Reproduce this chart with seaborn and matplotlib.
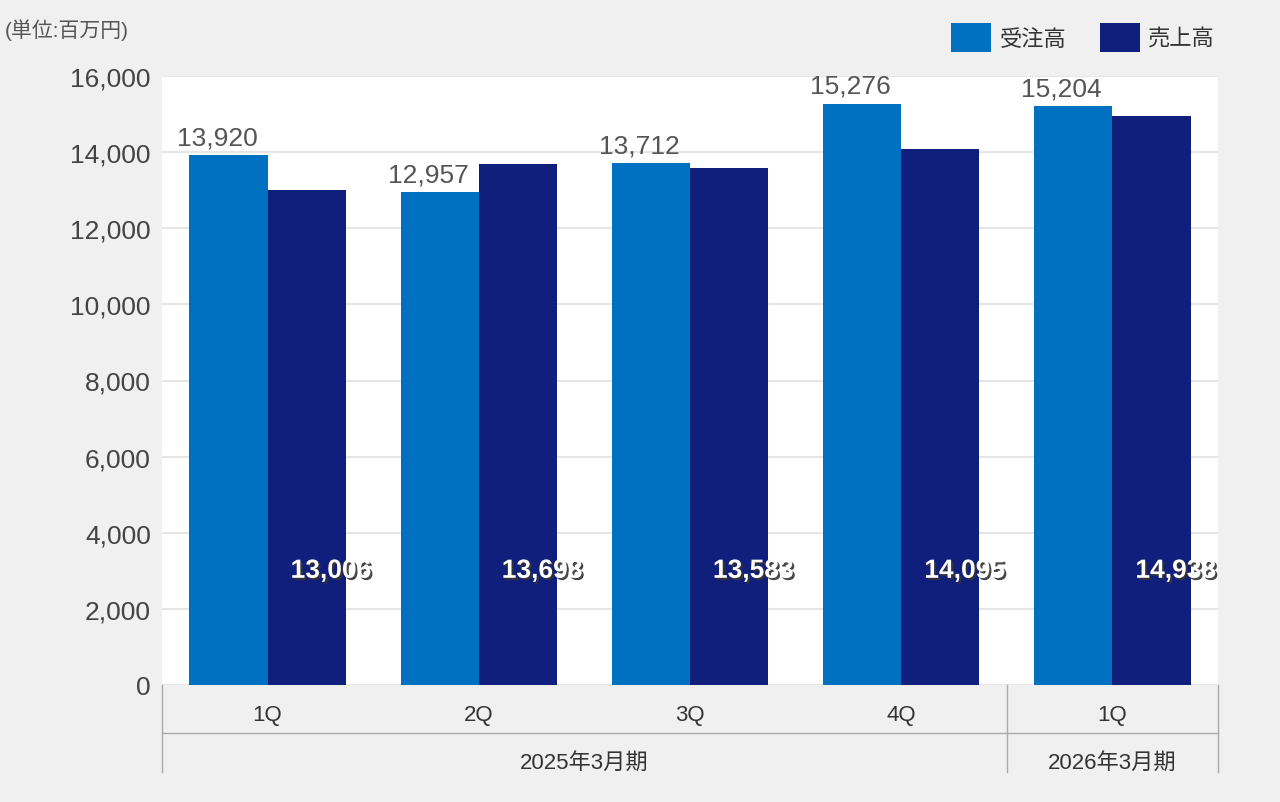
import matplotlib
matplotlib.use("Agg")
import matplotlib.pyplot as plt
import matplotlib.patheffects as pe
import matplotlib.transforms as mtransforms
from matplotlib.patches import Patch
import seaborn as sns
import pandas as pd

quarters = ["1Q", "2Q", "3Q", "4Q", "1Q "]
orders = [13920, 12957, 13712, 15276, 15204]
sales = [13006, 13698, 13583, 14095, 14938]
series_names = ["受注高", "売上高"]
colors = ["#0070c0", "#101f7c"]
period_labels = ["2025年3月期", "2026年3月期"]

plt.rcParams["font.family"] = ["Liberation Sans", "Noto Sans CJK JP"]

df = pd.DataFrame({
    "q": quarters * 2,
    "series": [series_names[0]] * 5 + [series_names[1]] * 5,
    "value": orders + sales,
})

fig = plt.figure(figsize=(12.8, 8.03), dpi=100, facecolor="#f0f0f0")
ax = fig.add_axes([162 / 1280, 1 - 686 / 803, 1056 / 1280, 609 / 803])
ax.set_facecolor("white")

sns.barplot(data=df, x="q", y="value", hue="series", palette=colors,
            width=0.74, gap=0, saturation=1, ax=ax, legend=False)

ax.set_ylim(0, 16000)
ax.set_xlim(-0.5, 4.5)
ax.set_yticks(range(0, 16001, 2000))
ax.set_yticklabels([f"{v:,}" for v in range(0, 16001, 2000)], fontsize=19, color="#444444")
ax.yaxis.grid(True, color="#e6e6e6", linewidth=1.5)
ax.set_axisbelow(True)
ax.tick_params(axis="y", length=0, pad=8)
ax.set_xticks([])
ax.set_xlabel("")
ax.set_ylabel("")
for s in ax.spines.values():
    s.set_visible(False)

for i, (o, s) in enumerate(zip(orders, sales)):
    ax.text(i - 0.24, o + 150, f"{o:,}", ha="center", va="bottom",
            fontsize=19, color="#555555")
    ax.text(i + 0.30, 3000, f"{s:,}", ha="center", va="center",
            fontsize=19, fontweight="bold", color="white",
            path_effects=[pe.withSimplePatchShadow(offset=(1.5, -1.5), shadow_rgbFace="#333333", alpha=0.9)])

# category table below the axis
tr = mtransforms.blended_transform_factory(ax.transData, ax.transAxes)
for i, q in enumerate(quarters):
    ax.text(i, -0.048, q.strip(), transform=tr, ha="center", va="center",
            fontsize=16, color="#333333")
ax.plot([-0.5, 4.5], [-0.079, -0.079], transform=tr, color="#aaaaaa", lw=1, clip_on=False)
for x in [-0.5, 3.5, 4.5]:
    ax.plot([x, x], [0, -0.143], transform=tr, color="#aaaaaa", lw=1, clip_on=False)
ax.text(1.5, -0.127, period_labels[0], transform=tr, ha="center", va="center",
        fontsize=16, color="#333333")
ax.text(4.0, -0.127, period_labels[1], transform=tr, ha="center", va="center",
        fontsize=16, color="#333333")

fig.text(5 / 1280, 1 - 30 / 803, "(単位:百万円)", ha="left", va="center",
         fontsize=15, color="#555555")

handles = [Patch(facecolor=c, label=n) for c, n in zip(colors, series_names)]
fig.legend(handles=handles, loc="upper right", bbox_to_anchor=(0.965, 0.995), ncol=2,
           frameon=False, fontsize=16, handlelength=1.8, handleheight=1.6,
           handletextpad=0.4, columnspacing=1.5, labelcolor="#333333")

fig.savefig("out.png", dpi=100, facecolor=fig.get_facecolor())
